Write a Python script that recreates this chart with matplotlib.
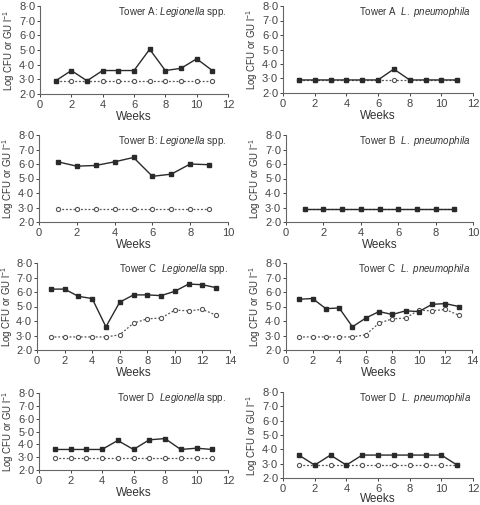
import matplotlib
matplotlib.use("Agg")
import matplotlib.pyplot as plt
from matplotlib.ticker import FuncFormatter

# ---- data ----
weeks_A = list(range(1, 12))
A_leg = [2.9, 3.6, 2.9, 3.6, 3.6, 3.6, 5.05, 3.6, 3.75, 4.4, 3.6]
A_leg_gu = [2.9] * 11
A_pn = [2.9, 2.9, 2.9, 2.9, 2.9, 2.9, 3.65, 2.9, 2.9, 2.9, 2.9]
A_pn_gu = [2.9] * 11

weeks_B = list(range(1, 10))
B_leg = [6.15, 5.85, 5.9, 6.15, 6.45, 5.15, 5.3, 6.0, 5.95]
B_leg_gu = [2.9] * 9
B_pn = [2.9] * 9
B_pn_gu = [2.9] * 9

weeks_C = list(range(1, 14))
C_leg = [6.2, 6.2, 5.7, 5.55, 3.6, 5.3, 5.8, 5.8, 5.75, 6.05, 6.55, 6.5, 6.3]
C_gu = [2.9, 2.9, 2.9, 2.9, 2.9, 3.05, 3.85, 4.15, 4.2, 4.75, 4.7, 4.8, 4.4]
C_pn = [5.5, 5.55, 4.85, 4.9, 3.6, 4.2, 4.65, 4.45, 4.7, 4.65, 5.15, 5.2, 5.0]

weeks_D = list(range(1, 12))
D_leg = [3.6, 3.6, 3.6, 3.6, 4.3, 3.6, 4.35, 4.45, 3.6, 3.7, 3.6]
D_leg_gu = [2.9] * 11
D_pn = [3.6, 2.9, 3.6, 2.9, 3.6, 3.6, 3.6, 3.6, 3.6, 3.6, 2.9]
D_pn_gu = [2.9] * 11

yticks = [2, 3, 4, 5, 6, 7, 8]

panels = [
    # (left px, right px, top px, bottom px, weeks, cfu, gu, xmax, title)
    (40, 228, 6, 94, weeks_A, A_leg, A_leg_gu, 12, r"Tower A: $\mathit{Legionella}$ spp."),
    (283, 473, 6, 93, weeks_A, A_pn, A_pn_gu, 12, r"Tower A  $\mathit{L.\ pneumophila}$"),
    (39, 228, 135, 222, weeks_B, B_leg, B_leg_gu, 10, r"Tower B: $\mathit{Legionella}$ spp."),
    (286, 473, 135, 222, weeks_B, B_pn, B_pn_gu, 10, r"Tower B  $\mathit{L.\ pneumophila}$"),
    (37, 230, 263, 350, weeks_C, C_leg, C_gu, 14, r"Tower C  $\mathit{Legionella}$ spp."),
    (286, 472, 263, 350, weeks_C, C_pn, C_gu, 14, r"Tower C  $\mathit{L.\ pneumophila}$"),
    (39, 228, 393, 470, weeks_D, D_leg, D_leg_gu, 12, r"Tower D  $\mathit{Legionella}$ spp."),
    (283, 473, 392, 478, weeks_D, D_pn, D_pn_gu, 12, r"Tower D  $\mathit{L.\ pneumophila}$"),
]

plt.rcParams['font.family'] = ['Liberation Sans', 'DejaVu Sans']
plt.rcParams['mathtext.fontset'] = 'custom'
plt.rcParams['mathtext.rm'] = 'Liberation Sans'
plt.rcParams['mathtext.it'] = 'Liberation Sans:italic'
plt.rcParams['mathtext.bf'] = 'Liberation Sans:bold'

W, H = 480, 505
fig = plt.figure(figsize=(W / 100, H / 100), dpi=100)

fmt = FuncFormatter(lambda v, p: f"{v:.1f}".replace(".", "\u00b7"))
ink = "#2a2a2a"
grey = "#555555"

for i, (l, r, t, b, wk, cfu, gu, xmax, title) in enumerate(panels):
    ax = fig.add_axes([l / W, 1 - b / H, (r - l) / W, (b - t) / H])
    ax.plot(wk, gu, linestyle=(0, (1.5, 1.5)), color=grey, lw=0.9,
            marker='o', ms=3, mfc='white', mec=grey, mew=0.8, zorder=2)
    ax.plot(wk, cfu, linestyle='-', color=ink, lw=1.0,
            marker='s', ms=3.3, mfc=ink, mec=ink, zorder=3)
    ax.set_xlim(0, xmax)
    ax.set_ylim(2, 8)
    ax.set_yticks(yticks)
    ax.set_xticks(list(range(0, xmax + 1, 2)))
    ax.yaxis.set_major_formatter(fmt)
    for s in ['top', 'right']:
        ax.spines[s].set_visible(False)
    for s in ['left', 'bottom']:
        ax.spines[s].set_color('#666666')
        ax.spines[s].set_linewidth(0.8)
    ax.tick_params(axis='both', labelsize=8, colors='#444444', length=2.5,
                   width=0.7, pad=1.5)
    ax.tick_params(axis='y', pad=1)
    ax.set_xlabel("Weeks", fontsize=8.5, color='#333333',
                  labelpad=-0.5 if i == 7 else 1)
    ax.set_ylabel(r"Log CFU or GU l$^{-1}$", fontsize=6.9, color='#333333',
                  labelpad=0.5 if i == 4 else 1.5)
    ax.text(0.99, 0.93, title, transform=ax.transAxes, ha='right', va='center',
            fontsize=7.0, color='#333333')

fig.savefig("out.png", dpi=100)
